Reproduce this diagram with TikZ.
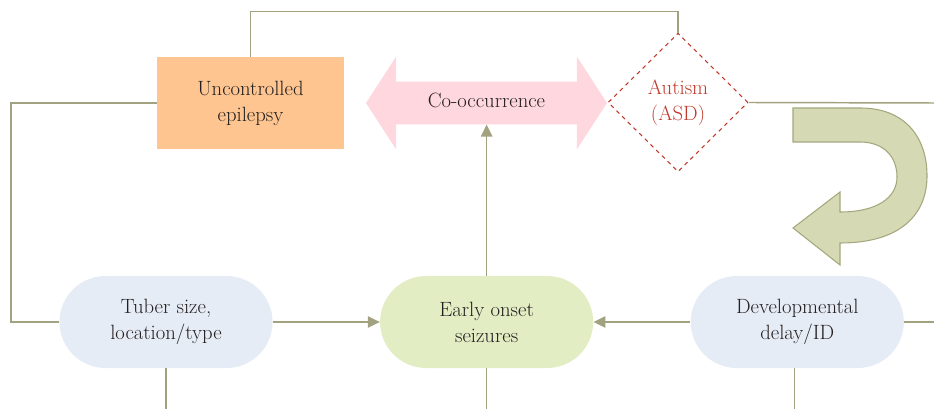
\documentclass[tikz,border=0pt]{standalone}
\usetikzlibrary{positioning,shapes.geometric,shapes.misc,shapes.arrows,arrows.meta}
\definecolor{linkgray}{HTML}{A2A281}
\definecolor{epiorange}{HTML}{FEC591}
\definecolor{coocpink}{HTML}{FFD7DE}
\definecolor{asdred}{HTML}{C0392B}
\definecolor{pillblue}{HTML}{E6ECF5}
\definecolor{pillgreen}{HTML}{E2EDC4}
\definecolor{turnfill}{HTML}{D5DAB4}
\definecolor{turnline}{HTML}{A5A87F}
\definecolor{inktext}{HTML}{231F20}

\begin{document}
\begin{tikzpicture}[x=0.75pt,y=-0.75pt,
         every node/.style = {font=\fontsize{15.5}{19.5}\selectfont, align=center, text=inktext},
         link/.style = {draw=linkgray, line width=1.1pt},
         arrowlink/.style = {link, -{Triangle[length=9pt,width=8.5pt]}},
         epibox/.style = {rectangle, fill=epiorange, minimum width=140.25pt, minimum height=69pt},
         pill/.style = {rounded rectangle, minimum width=166.5pt, minimum height=69pt},
         asdbox/.style = {diamond, draw=asdred, dashed, line width=0.8pt, text=asdred,
                          minimum width=105pt, minimum height=104pt, inner sep=0pt},
         coarrow/.style = {double arrow, fill=coocpink, minimum height=180.75pt,
                           double arrow head extend=18.75pt, double arrow tip angle=114,
                           text height=10pt, text depth=3pt, inner ysep=9.25pt, inner xsep=2pt}
]
   \useasboundingbox (0,0) rectangle (934,409);

   % top row
   \node[epibox] (epi) at (250.5,103) {Uncontrolled\\epilepsy};
   \node[coarrow] (cooc) at (486.5,103) {Co-occurrence};
   \node[asdbox] (asd) at (678,102.5) {Autism\\(ASD)};

   % bottom row
   \node[pill, fill=pillblue] (tuber) at (166,322) {Tuber size,\\location/type};
   \node[pill, fill=pillgreen, right=80.25pt of tuber] (early) {Early onset\\seizures};
   \node[pill, fill=pillblue, right=72.75pt of early] (dev) {Developmental\\delay/ID};

   % free ends
   \coordinate (leftbend) at (11,322);
   \coordinate (asdout) at (934,103);
   \coordinate (devout) at (934,322);
   \coordinate (bottomedge) at (0,409);

   \draw[link] (epi.north) -- ++(0,-45) -| (asd.north);
   \draw[link] (epi.west) -| (leftbend) -- (tuber.west);
   \draw[link] (asd.east) -- (asdout);
   \draw[link] (dev.east) -- (devout);
   \draw[arrowlink] (tuber.east) -- (early.west);
   \draw[arrowlink] (dev.west) -- (early.east);
   \draw[arrowlink] (early.north) -- (early.north |- cooc.south);
   \draw[link] (tuber.south) -- (tuber.south |- bottomedge);
   \draw[link] (early.south) -- (early.south |- bottomedge);
   \draw[link] ([xshift=-2.25pt]dev.south) -- ([xshift=-2.25pt]dev.south |- bottomedge);

   % turning arrow
   \draw[fill=turnfill, draw=turnline, line width=0.8pt]
      (793,108) -- (860,108)
      .. controls (905,108) and (927,137) .. (927,176)
      .. controls (927,215) and (900,243) .. (840,243)
      -- (840,265) -- (793,228) -- (840,192) -- (840,212)
      .. controls (878,212) and (897,197) .. (897,177)
      .. controls (897,157) and (884,142) .. (860,142)
      -- (793,142) -- cycle;
\end{tikzpicture}
\end{document}
